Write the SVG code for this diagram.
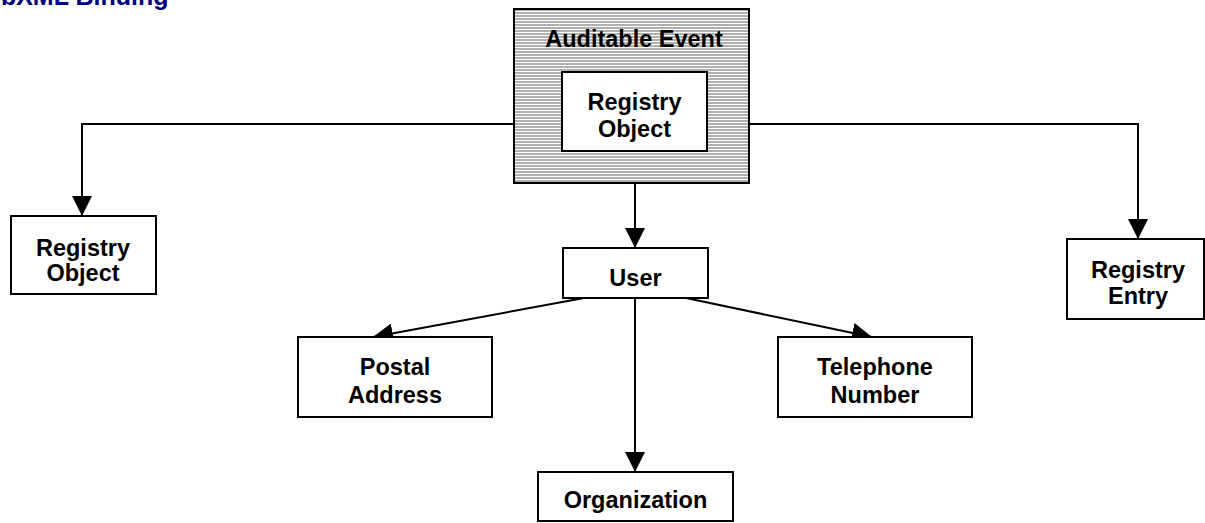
<svg xmlns="http://www.w3.org/2000/svg" width="1205" height="523" viewBox="0 0 1205 523">
<defs>
<pattern id="hatch" patternUnits="userSpaceOnUse" width="8" height="3">
<rect x="0" y="0" width="8" height="3" fill="#ffffff"/>
<rect x="0" y="0" width="8" height="2" fill="#b0b0b0"/>
</pattern>
<marker id="arrow" markerUnits="userSpaceOnUse" markerWidth="20" markerHeight="20" refX="20" refY="10" orient="auto" viewBox="0 0 20 20">
<path d="M0,0 L20,10 L0,20 z" fill="#000"/>
</marker>
<style>
.box{fill:#fff;stroke:#000;stroke-width:2}
.lbl{font-family:"Liberation Sans",Arial,sans-serif;font-weight:bold;font-size:23.5px;fill:#000;text-anchor:middle}
.conn{fill:none;stroke:#000;stroke-width:2;marker-end:url(#arrow)}
</style>
</defs>
<rect width="1205" height="523" fill="#fff"/>
<text x="-13" y="5" style="font-family:'Liberation Sans',Arial,sans-serif;font-weight:bold;font-size:25px" fill="#000080">ebXML Binding</text>
<g id="connectors">
<polyline class="conn" points="514,124 82,124 82,216"/>
<polyline class="conn" points="749,124 1138,124 1138,239"/>
<line class="conn" x1="635" y1="162" x2="635" y2="248"/>
<line class="conn" x1="584" y1="298" x2="373" y2="337"/>
<line class="conn" x1="635" y1="298" x2="635" y2="472"/>
<line class="conn" x1="686" y1="298" x2="872" y2="337"/>
</g>
<g id="auditable-event">
<rect x="514" y="9" width="235" height="174" fill="url(#hatch)" stroke="#000" stroke-width="2"/>
<text class="lbl" x="634" y="47">Auditable Event</text>
</g>
<g id="registry-object-inner">
<rect class="box" x="562" y="72" width="145" height="79"/>
<text class="lbl" x="634.5" y="110">Registry</text>
<text class="lbl" x="634.5" y="137">Object</text>
</g>
<g id="registry-object-left">
<rect class="box" x="11" y="216" width="145" height="78"/>
<text class="lbl" x="83" y="256">Registry</text>
<text class="lbl" x="83" y="281">Object</text>
</g>
<g id="registry-entry">
<rect class="box" x="1067" y="239" width="137" height="80"/>
<text class="lbl" x="1138" y="278">Registry</text>
<text class="lbl" x="1138" y="304">Entry</text>
</g>
<g id="user">
<rect class="box" x="563" y="248" width="145" height="50"/>
<text class="lbl" x="635.5" y="286">User</text>
</g>
<g id="postal-address">
<rect class="box" x="298" y="337" width="194" height="80"/>
<text class="lbl" x="395" y="375">Postal</text>
<text class="lbl" x="395" y="403">Address</text>
</g>
<g id="telephone-number">
<rect class="box" x="778" y="337" width="194" height="80"/>
<text class="lbl" x="875" y="375">Telephone</text>
<text class="lbl" x="875" y="403">Number</text>
</g>
<g id="organization">
<rect class="box" x="538" y="472" width="195" height="49"/>
<text class="lbl" x="635.5" y="508">Organization</text>
</g>
</svg>
